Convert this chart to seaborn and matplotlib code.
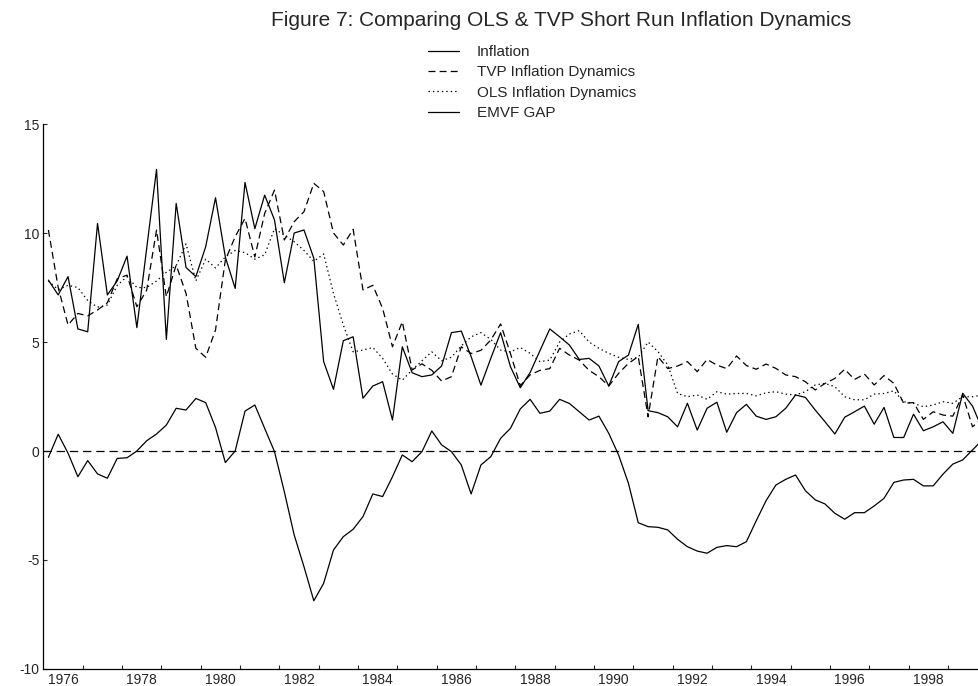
import numpy as np
import pandas as pd
import matplotlib
matplotlib.use('Agg')
import matplotlib.pyplot as plt
import seaborn as sns

# quarterly sample 1976Q1 - 1999Q4
quarters = pd.period_range('1976Q1', '1999Q4', freq='Q')

inflation = [7.84, 7.16, 8.0, 5.6, 5.47, 10.44, 7.16, 7.8, 8.94, 5.66, 9.3, 12.92,
             5.12, 11.36, 8.42, 8.0, 9.37, 11.62, 8.9, 7.46, 12.32, 10.2, 11.74, 10.6,
             7.72, 10.0, 10.14, 8.84, 4.1, 2.83, 5.06, 5.24, 2.42, 2.98, 3.18, 1.42,
             4.78, 3.59, 3.41, 3.49, 3.9, 5.43, 5.5, 4.33, 3.02, 4.25, 5.43, 3.87,
             2.9, 3.6, 4.6, 5.6, 5.24, 4.86, 4.2, 4.25, 3.9, 2.98, 4.1, 4.4,
             5.81, 1.85, 1.76, 1.57, 1.11, 2.19, 0.96, 1.96, 2.24, 0.86, 1.76, 2.14,
             1.6, 1.45, 1.57, 1.96, 2.57, 2.46, 1.88, 1.34, 0.78, 1.55, 1.8, 2.06,
             1.23, 2.0, 0.62, 0.62, 1.69, 0.93, 1.11, 1.34, 0.81, 2.65, 2.06, 1.0]

tvp = [10.14, 7.5, 5.78, 6.31, 6.2, 6.47, 6.8, 7.9, 8.07, 6.62, 7.38, 10.14,
       7.08, 8.53, 7.23, 4.71, 4.3, 5.55, 8.76, 9.83, 10.67, 8.9, 10.9, 11.97,
       9.68, 10.52, 10.98, 12.28, 11.9, 10.0, 9.45, 10.17, 7.39, 7.6, 6.54, 4.78,
       5.93, 3.72, 4.0, 3.7, 3.21, 3.41, 4.78, 4.47, 4.62, 5.09, 5.83, 4.47,
       3.0, 3.49, 3.7, 3.78, 4.71, 4.4, 4.17, 3.7, 3.41, 2.98, 3.56, 4.02,
       4.33, 1.57, 4.33, 3.78, 3.9, 4.1, 3.64, 4.2, 3.94, 3.78, 4.36, 3.92,
       3.75, 3.99, 3.79, 3.49, 3.41, 3.18, 2.8, 3.1, 3.33, 3.75, 3.28, 3.53,
       3.03, 3.46, 3.1, 2.19, 2.22, 1.45, 1.8, 1.65, 1.6, 2.57, 1.11, 1.5]

ols = [7.8, 7.4, 7.6, 7.5, 6.9, 6.6, 6.7, 7.6, 8.0, 7.5, 7.5, 7.8,
       8.2, 8.5, 9.5, 7.8, 8.8, 8.4, 8.9, 9.2, 9.1, 8.8, 9.0, 10.2,
       9.9, 9.6, 9.2, 8.7, 9.04, 7.23, 5.78, 4.55, 4.63, 4.75, 4.25, 3.53,
       3.25, 3.72, 4.14, 4.55, 4.14, 4.3, 4.82, 5.24, 5.43, 5.12, 4.63, 4.55,
       4.75, 4.48, 4.1, 4.17, 5.0, 5.37, 5.52, 5.0, 4.71, 4.48, 4.3, 4.2,
       4.3, 5.0, 4.56, 3.95, 2.64, 2.49, 2.57, 2.37, 2.72, 2.61, 2.64, 2.64,
       2.53, 2.67, 2.72, 2.61, 2.57, 2.72, 3.03, 3.1, 2.95, 2.49, 2.35, 2.35,
       2.61, 2.64, 2.76, 2.26, 2.19, 2.03, 2.11, 2.26, 2.19, 2.49, 2.49, 2.57]

emvf_gap = [-0.29, 0.77, -0.1, -1.18, -0.44, -1.05, -1.25, -0.34, -0.31, 0.0, 0.47, 0.78,
            1.19, 1.96, 1.88, 2.41, 2.22, 1.08, -0.53, 0.0, 1.83, 2.11, 1.04, -0.03,
            -1.87, -3.85, -5.31, -6.87, -6.07, -4.54, -3.93, -3.59, -3.01, -1.97, -2.09, -1.18,
            -0.18, -0.49, -0.03, 0.92, 0.28, -0.03, -0.64, -1.97, -0.64, -0.26, 0.58, 1.04,
            1.93, 2.37, 1.73, 1.83, 2.37, 2.18, 1.8, 1.42, 1.6, 0.81, -0.18, -1.48,
            -3.29, -3.47, -3.5, -3.62, -4.05, -4.39, -4.59, -4.69, -4.42, -4.34, -4.39, -4.16,
            -3.2, -2.28, -1.56, -1.3, -1.1, -1.82, -2.24, -2.43, -2.86, -3.13, -2.83, -2.83,
            -2.52, -2.17, -1.44, -1.33, -1.3, -1.6, -1.6, -1.06, -0.6, -0.41, 0.05, 0.5]

year_labels = ['1976', '1978', '1980', '1982', '1984', '1986',
               '1988', '1990', '1992', '1994', '1996', '1998']
y_ticks = [-10, -5, 0, 5, 10, 15]

# decimal date at the middle of each quarter
t = quarters.year + (quarters.quarter - 0.5) / 4.0
df = pd.DataFrame({'t': t, 'Inflation': inflation, 'TVP': tvp,
                   'OLS': ols, 'GAP': emvf_gap})

sns.set_style('white')
plt.rcParams['font.family'] = ['Liberation Sans', 'DejaVu Sans']
plt.rcParams['lines.scale_dashes'] = False
plt.rcParams['axes.unicode_minus'] = False

fig = plt.figure(figsize=(9.79, 6.86), dpi=100)
ax = fig.add_axes([0.0444, 0.0248, 0.9556, 0.7944])

lw = 0.9
sns.lineplot(data=df, x='t', y='Inflation', ax=ax, color='black', lw=lw,
             label='Inflation', legend=False)
sns.lineplot(data=df, x='t', y='TVP', ax=ax, color='black', lw=lw,
             linestyle=(0, (5, 3)), label='TVP Inflation Dynamics', legend=False)
sns.lineplot(data=df, x='t', y='OLS', ax=ax, color='black', lw=lw,
             linestyle=(0, (1, 2.2)), label='OLS Inflation Dynamics', legend=False)
sns.lineplot(data=df, x='t', y='GAP', ax=ax, color='black', lw=lw,
             label='EMVF GAP', legend=False)
ax.axhline(0, color='black', lw=lw, linestyle=(0, (6, 3.5)), zorder=1)

ax.set_xlim(1976.0, 1999.79)
ax.set_ylim(-10, 15)
ax.set_xlabel('')
ax.set_ylabel('')

# labels sit in the middle of each year, tick marks on the year boundaries
ax.set_xticks([int(y) + 0.5 for y in year_labels])
ax.set_xticklabels(year_labels)
ax.set_xticks(np.arange(1977, 2000), minor=True)
ax.tick_params(axis='x', which='major', length=0, pad=3, labelsize=10)
ax.tick_params(axis='x', which='minor', direction='in', length=3, width=0.8,
               bottom=True)
ax.set_yticks(y_ticks)
ax.tick_params(axis='y', direction='in', length=3, width=0.8, pad=3,
               labelsize=10, left=True)

sns.despine(ax=ax, top=True, right=True)
for s in ['left', 'bottom']:
    ax.spines[s].set_linewidth(0.9)
    ax.spines[s].set_color('black')

fig.text(561 / 979, 1 - 20 / 686,
         'Figure 7: Comparing OLS & TVP Short Run Inflation Dynamics',
         ha='center', va='center', fontsize=15)

handles, labels = ax.get_legend_handles_labels()
fig.legend(handles, labels, loc='upper left',
           bbox_to_anchor=(428 / 979, 1 - 45 / 686), frameon=False,
           fontsize=11, handlelength=2.0, handletextpad=1.2,
           labelspacing=0.42, borderpad=0, borderaxespad=0)

fig.savefig('out.png', dpi=100)
